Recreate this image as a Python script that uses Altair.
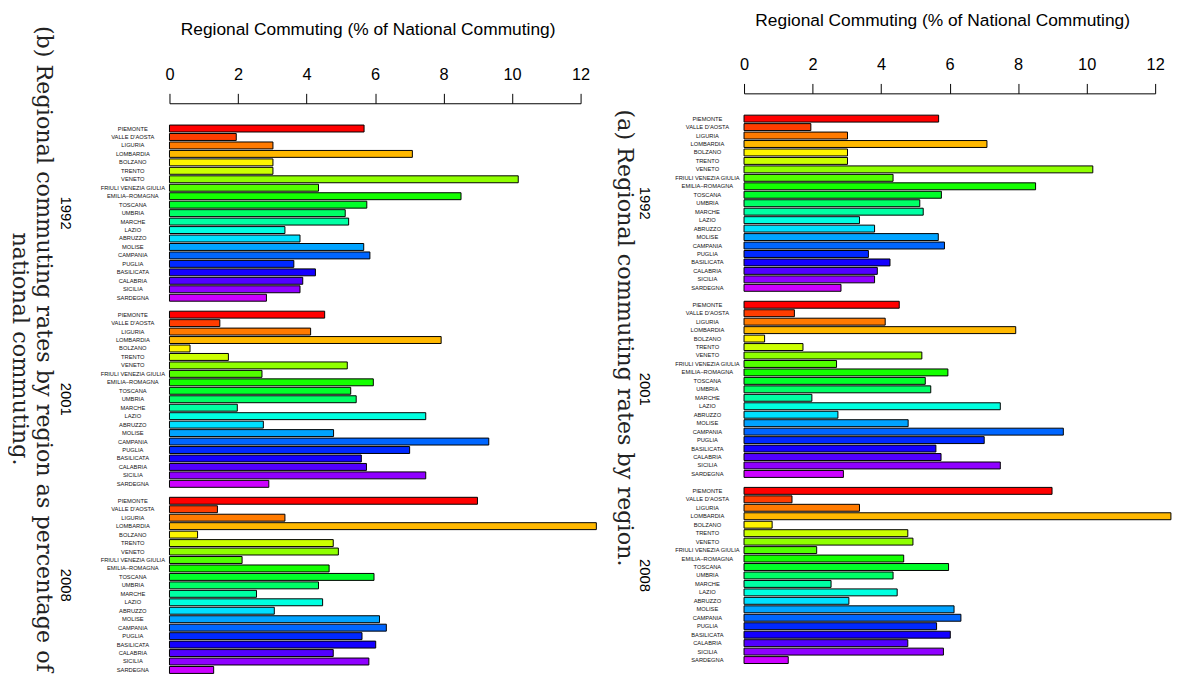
import altair as alt
import pandas as pd

REGIONS = ["PIEMONTE", "VALLE D'AOSTA", "LIGURIA", "LOMBARDIA", "BOLZANO", "TRENTO",
           "VENETO", "FRIULI VENEZIA GIULIA", "EMILIA–ROMAGNA", "TOSCANA", "UMBRIA",
           "MARCHE", "LAZIO", "ABRUZZO", "MOLISE", "CAMPANIA", "PUGLIA", "BASILICATA",
           "CALABRIA", "SICILIA", "SARDEGNA"]
YEARS = ["1992", "2001", "2008"]
V1992 = [5.68, 1.95, 3.02, 7.09, 3.02, 3.02, 10.18, 4.35, 8.51, 5.76, 5.13,
         5.23, 3.37, 3.81, 5.67, 5.85, 3.63, 4.26, 3.89, 3.81, 2.83]
V2001 = [4.53, 1.47, 4.12, 7.93, 0.60, 1.72, 5.19, 2.70, 5.95, 5.29, 5.45,
         1.98, 7.48, 2.74, 4.79, 9.32, 7.01, 5.60, 5.75, 7.48, 2.90]
V2008 = [8.99, 1.40, 3.37, 12.46, 0.82, 4.78, 4.93, 2.12, 4.66, 5.97, 4.35,
         2.54, 4.47, 3.06, 6.13, 6.33, 5.62, 6.02, 4.78, 5.82, 1.29]
COLORS = ["#FF0000", "#FF3D00", "#FF7A00", "#FFB800", "#FFF500", "#CCFF00", "#8FFF00",
          "#52FF00", "#14FF00", "#00FF29", "#00FF66", "#00FFA3", "#00FFE0", "#00E0FF",
          "#00A3FF", "#0066FF", "#0029FF", "#1400FF", "#5200FF", "#8F00FF", "#CC00FF"]
TICKS = [0, 2, 4, 6, 8, 10, 12]
AXIS_TITLE = "Regional Commuting (% of National Commuting)"
CAPTION_B = ["(b) Regional commuting rates by region as percentage of", "national commuting."]
CAPTION_A = ["(a) Regional commuting rates by region."]

STRIDE = len(REGIONS) + 1  # one blank row between year groups
rows = []
for g, (yr, vals) in enumerate(zip(YEARS, [V1992, V2001, V2008])):
    for i, (reg, v) in enumerate(zip(REGIONS, vals)):
        rows.append({"year": yr, "region": reg, "value": v, "row": g * STRIDE + i})
df = pd.DataFrame(rows)
year_df = pd.DataFrame({"year": YEARS,
                        "row": [g * STRIDE + (len(REGIONS) - 1) / 2 for g in range(len(YEARS))]})

SANS = "Liberation Sans"
SERIF = "DejaVu Serif"
W, H = 415, 575


def panel(y_domain, axis_offset, captions, cap_xs, cap_y, year_x):
    y_scale = alt.Scale(domain=y_domain, reverse=True, nice=False, zero=False, padding=0)
    x_enc = alt.X("value:Q",
                  scale=alt.Scale(domain=[0, 12], nice=False, zero=True, padding=0),
                  axis=alt.Axis(orient="top", values=TICKS, title=AXIS_TITLE,
                                grid=False, offset=axis_offset,
                                domainColor="black", domainWidth=1,
                                tickColor="black", tickSize=10, tickWidth=1,
                                labelFont=SANS, labelFontSize=16.5, labelColor="black",
                                labelPadding=11, labelFlush=False,
                                titleFont=SANS, titleFontSize=17.5, titleFontWeight="normal",
                                titleColor="black", titlePadding=28, titleX=200))
    bars = alt.Chart(df).mark_bar(orient="horizontal", size=7, stroke="black",
                                  strokeWidth=1).encode(
        x=x_enc,
        y=alt.Y("row:Q", scale=y_scale, axis=None),
        color=alt.Color("region:N", scale=alt.Scale(domain=REGIONS, range=COLORS),
                        legend=None))
    labels = alt.Chart(df).mark_text(font=SANS, fontSize=5.8, color="#111",
                                     align="center", baseline="middle").encode(
        y=alt.Y("row:Q"), x=alt.value(-37), text="region:N")
    years = alt.Chart(year_df).mark_text(angle=90, font=SANS, fontSize=15, color="black",
                                         align="center", baseline="middle").encode(
        y=alt.Y("row:Q"), x=alt.value(year_x), text="year:N")
    layers = [bars, labels, years]
    for line, cx in zip(captions, cap_xs):
        cap = alt.Chart(pd.DataFrame({"t": [line]})).mark_text(
            angle=90, font=SERIF, fontSize=22.5, color="#222",
            align="center", baseline="middle").encode(
            x=alt.value(cx), y=alt.value(cap_y), text="t:N")
        layers.append(cap)
    return alt.layer(*layers).properties(width=W, height=H)


P = 8.54
left = panel([-25.5 / P, -25.5 / P + H / P], 0, CAPTION_B, [-127, -151], 248, -104)
right = panel([-15.5 / P, -15.5 / P + H / P], 10, CAPTION_A, [-120], 237, -100)

chart = alt.hconcat(left, right, spacing=165, bounds="flush").properties(
    padding=0, background="white"
).configure_view(stroke=None)

chart.save("out.html", embed_options={"renderer": "svg", "actions": False})
